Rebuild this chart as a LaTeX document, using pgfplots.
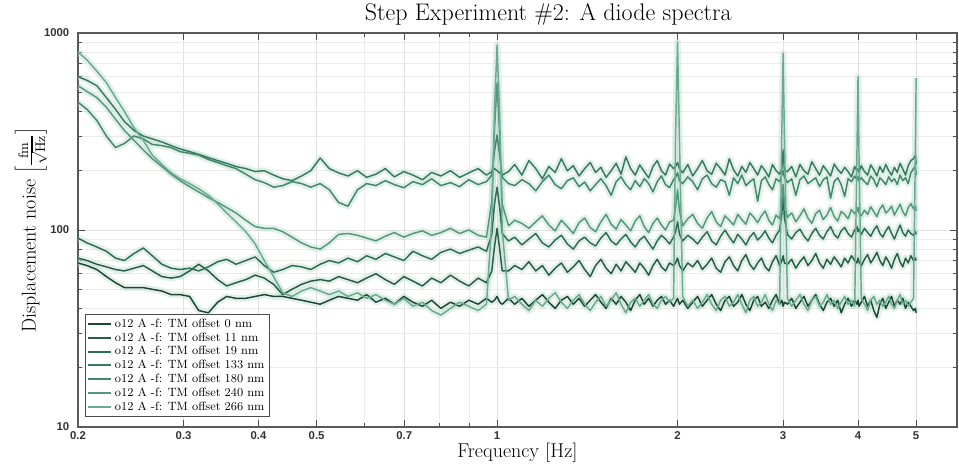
\documentclass[border=0pt]{standalone}
\usepackage{fontspec}
\usepackage{pgfplots}
\usepackage{pgfplotstable}
\pgfplotsset{compat=1.18}
\newfontfamily\tickfont{Liberation Sans}
\definecolor{cA}{HTML}{1E4537}
\definecolor{cB}{HTML}{285C49}
\definecolor{cC}{HTML}{2F6C55}
\definecolor{cD}{HTML}{377A61}
\definecolor{cE}{HTML}{42876C}
\definecolor{cF}{HTML}{54987C}
\definecolor{cG}{HTML}{6AAA8F}
\definecolor{halo}{HTML}{BFDECF}

\pgfplotstableread{
f A B C D E F G
0.200 68 72 91 600 445 540 800
0.207 66 70 86 575 410 505 730
0.215 63 67 82 540 360 470 640
0.223 58 65 78 470 300 420 560
0.231 54 63 72 410 262 365 470
0.239 51 62 70 355 275 320 400
0.248 51 64 76 320 300 285 330
0.257 51 66 81 300 290 255 285
0.266 50 62 74 290 272 230 240
0.276 49 58 67 280 268 210 215
0.286 47 57 64 268 262 192 195
0.296 47 58 63 258 250 178 182
0.307 46 62 64 250 245 166 172
0.318 39 67 62 242 240 156 162
0.330 38 62 65 233 228 146 150
0.342 43 56 69 225 220 138 136
0.354 46 52 71 218 212 130 122
0.367 45 54 67 210 205 122 110
0.381 45 56 70 205 192 112 98
0.395 46 59 73 198 180 104 85
0.409 47 57 66 200 174 102 70
0.424 46 53 61 190 165 102 58
0.439 46 47 63 182 168 98 48
0.455 45 50 66 178 176 92 46
0.472 44 53 65 188 172 86 49
0.489 43 55 63 200 165 82 51
0.507 42 56 67 232 172 80 49
0.525 44 55 70 205 160 86 47
0.544 46 58 68 195 138 95 49
0.564 45 56 72 188 132 96 46
0.585 44 54 69 200 160 94 48
0.606 47 57 74 185 172 91 45
0.628 43 60 71 192 168 88 47
0.651 45 56 76 205 178 93 44
0.674 42 53 73 186 170 97 42
0.699 46 58 70 198 164 92 45
0.724 43 55 78 190 176 96 41
0.751 41 52 74 180 170 99 43
0.778 44 57 71 196 182 94 39
0.806 40 54 77 188 168 97 37
0.836 43 59 80 200 174 102 40
0.866 41 55 76 185 166 96 43
0.897 44 52 79 195 180 100 41
0.930 42 57 82 205 170 94 39
0.960 45 54 78 190 176 92 42
0.980 43 62 95 198 190 140 110
0.990 44 82 135 205 250 320 400
1.000 46 102 165 200 303 557 870
1.010 43 80 130 195 240 300 380
1.020 42 62 96 190 185 135 100
1.045 45 62 88 198 172 105 44
1.07 42 66 92 215 168 112 46
1.10 45 63 84 190 180 108 42
1.13 41 69 90 225 172 102 39
1.16 44 62 96 205 158 110 44
1.19 47 66 86 182 176 118 41
1.22 43 59 82 210 190 106 45
1.25 40 64 89 196 170 99 48
1.28 44 68 94 230 162 112 43
1.31 46 61 85 200 178 104 40
1.34 42 65 80 212 184 96 44
1.37 45 70 88 188 166 109 47
1.40 41 63 92 205 175 115 42
1.43 44 58 86 220 158 103 39
1.46 47 66 83 196 170 98 43
1.49 43 71 91 208 182 110 46
1.52 40 64 97 185 168 120 41
1.55 45 60 88 200 150 107 44
1.58 42 67 84 218 176 101 48
1.61 46 62 90 192 186 113 42
1.64 43 69 95 235 170 106 38
1.67 39 65 87 205 160 99 43
1.70 44 61 82 190 178 111 45
1.73 47 68 89 214 166 118 41
1.76 42 64 93 198 182 104 44
1.79 45 59 86 184 172 97 47
1.82 41 66 80 210 156 108 42
1.85 44 71 88 225 176 115 40
1.88 46 65 94 200 188 106 44
1.91 42 62 90 190 170 100 46
1.94 44 68 85 216 164 110 43
1.97 41 66 92 205 180 112 45
1.985 43 68 98 210 185 130 300
2.000 45 72 110 220 195 160 900
2.015 42 66 95 205 178 125 280
2.04 44 62 88 195 172 105 46
2.08 40 68 94 215 186 114 41
2.12 43 65 90 188 176 120 44
2.16 46 70 85 205 160 108 40
2.20 41 63 92 225 182 102 43
2.24 44 67 98 200 190 115 47
2.28 47 72 88 192 172 124 42
2.32 42 64 84 218 165 110 39
2.36 39 61 93 205 180 104 44
2.40 44 69 100 190 176 118 46
2.44 46 73 92 230 150 112 41
2.48 41 66 86 202 184 106 43
2.52 43 62 95 188 172 120 47
2.56 47 70 90 210 190 113 42
2.60 42 75 84 196 168 107 38
2.64 39 67 92 220 176 122 44
2.68 44 63 97 205 182 116 46
2.72 46 68 89 190 140 109 41
2.76 41 72 93 212 178 118 43
2.80 43 65 99 200 186 125 47
2.84 40 62 91 186 170 112 42
2.88 44 69 86 215 160 106 39
2.92 47 74 94 200 182 119 44
2.96 42 66 100 192 176 114 42
2.985 44 70 120 205 190 140 320
3.000 41 74 150 255 200 170 790
3.015 43 68 115 200 185 135 300
3.05 42 67 95 198 174 116 45
3.10 45 71 90 210 182 122 41
3.15 40 64 97 186 150 110 44
3.20 43 69 101 215 180 118 47
3.25 46 73 93 200 188 128 42
3.30 41 66 88 192 172 115 39
3.35 44 70 96 222 178 108 44
3.40 47 76 102 205 184 121 46
3.45 42 68 94 190 166 126 41
3.50 39 64 90 212 180 113 43
3.55 43 71 98 200 186 119 47
3.60 45 67 104 188 145 130 42
3.65 41 73 95 216 176 117 44
3.70 44 69 91 203 184 111 40
3.75 38 65 99 194 170 124 43
3.80 42 72 103 208 148 120 46
3.85 45 68 96 198 182 114 42
3.90 41 74 92 186 176 127 44
3.95 44 70 100 210 188 121 41
3.985 42 68 104 200 180 125 260
4.000 44 72 98 205 186 130 600
4.015 41 69 101 196 178 122 240
4.05 43 66 95 212 184 118 45
4.10 46 71 102 198 176 126 42
4.15 41 75 97 190 170 120 39
4.20 44 68 93 214 188 131 44
4.25 39 72 100 202 180 124 46
4.30 36 77 105 188 166 117 42
4.35 42 70 96 210 184 128 44
4.40 45 66 92 196 178 134 41
4.45 40 73 99 215 170 122 43
4.50 43 69 104 200 186 126 46
4.55 46 64 96 190 176 132 42
4.60 41 71 90 208 182 119 40
4.65 44 76 98 196 170 127 44
4.70 42 69 106 218 190 135 47
4.75 45 65 97 204 178 124 42
4.80 40 72 93 190 184 118 44
4.85 43 68 100 212 172 130 41
4.90 41 74 96 225 195 136 43
4.95 39 70 94 230 205 128 45
4.985 40 72 98 240 210 132 250
5.000 38 70 95 215 190 125 590
}\spec

\begin{document}
\begin{tikzpicture}
\path[use as bounding box] (-58.5pt,-30.75pt) rectangle (660.75pt,320.25pt);
\begin{axis}[
  at={(0,0)}, anchor=south west,
  scale only axis, width=659.25pt, height=295.5pt,
  xmode=log, ymode=log,
  xmin=0.2, xmax=5.85, ymin=10, ymax=1000,
  xtick={0.2,0.3,0.4,0.5,0.7,1,2,3,4,5},
  xticklabels={0.2,0.3,0.4,0.5,0.7,1,2,3,4,5},
  minor xtick={0.6,0.8,0.9},
  ytick={10,100,1000},
  yticklabels={10,100,1000},
  minor ytick={20,30,40,50,60,70,80,90,200,300,400,500,600,700,800,900},
  tick label style={font=\tickfont\bfseries\fontsize{8.5}{10}\selectfont, black!80},
  yticklabel style={xshift=-3pt},
  tick align=inside,
  major tick length=5pt, minor tick length=3pt,
  tick style={black!70, line width=0.6pt},
  grid=both,
  major grid style={black!12, line width=0.5pt},
  minor grid style={black!8, line width=0.4pt},
  axis line style={black!65, line width=1.1pt},
  title={Step Experiment \#2: A diode spectra},
  title style={font=\fontsize{18}{20}\selectfont, at={(axis description cs:0.535,1)}, yshift=-4pt},
  xlabel={Frequency $\left[\mathrm{Hz}\right]$},
  xlabel style={font=\fontsize{15}{17}\selectfont, yshift=4pt},
  ylabel={Displacement noise $\left[\frac{\mathrm{fm}}{\sqrt{\mathrm{Hz}}}\right]$},
  ylabel style={font=\fontsize{15}{17}\selectfont, yshift=-9pt},
  legend style={at={(axis description cs:0,0)}, anchor=south west, xshift=5pt, yshift=7.5pt,
    font=\fontsize{9}{10}\selectfont, draw=black!70, fill=white, inner sep=1.5pt,
    row sep=-1.6pt},
  legend cell align=left,
  legend image code/.code={\draw[#1, line width=1.4pt] (0cm,0cm) -- (0.62cm,0cm);},
  every axis plot/.append style={line join=round},
  halo/.style={forget plot, line width=5pt, color=halo, opacity=0.45},
  mainline/.style={line width=1.1pt},
]
\addplot[halo] table[x=f,y=A] {\spec};
\addplot[halo] table[x=f,y=B] {\spec};
\addplot[halo] table[x=f,y=C] {\spec};
\addplot[halo] table[x=f,y=D] {\spec};
\addplot[halo] table[x=f,y=E] {\spec};
\addplot[halo] table[x=f,y=F] {\spec};
\addplot[halo] table[x=f,y=G] {\spec};
\addplot[cA, mainline] table[x=f,y=A] {\spec};
\addlegendentry{o12 A -f: TM offset 0 nm}
\addplot[cB, mainline] table[x=f,y=B] {\spec};
\addlegendentry{o12 A -f: TM offset 11 nm}
\addplot[cC, mainline] table[x=f,y=C] {\spec};
\addlegendentry{o12 A -f: TM offset 19 nm}
\addplot[cD, mainline] table[x=f,y=D] {\spec};
\addlegendentry{o12 A -f: TM offset 133 nm}
\addplot[cE, mainline] table[x=f,y=E] {\spec};
\addlegendentry{o12 A -f: TM offset 180 nm}
\addplot[cF, mainline] table[x=f,y=F] {\spec};
\addlegendentry{o12 A -f: TM offset 240 nm}
\addplot[cG, mainline] table[x=f,y=G] {\spec};
\addlegendentry{o12 A -f: TM offset 266 nm}
\end{axis}
\end{tikzpicture}
\end{document}
